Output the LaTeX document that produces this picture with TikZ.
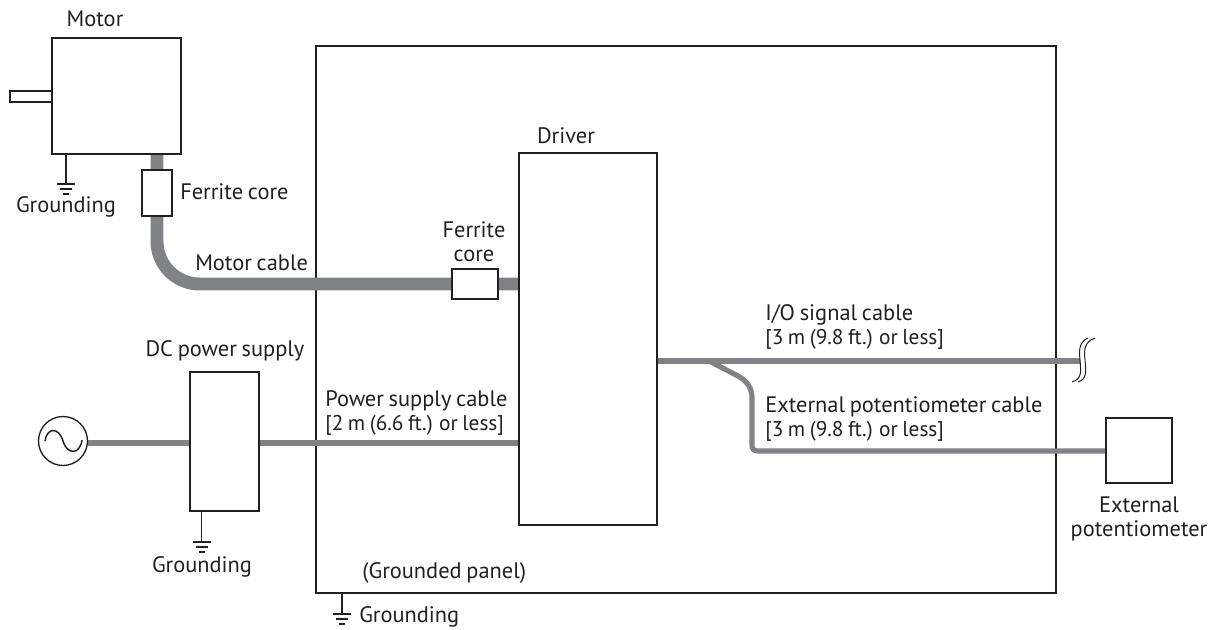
\documentclass[tikz,border=0pt]{standalone}
\usepackage{fontspec}
\setmainfont[WordSpace=0.8]{PT Sans}
\definecolor{ink}{HTML}{231F20}
\definecolor{cablegray}{HTML}{808285}
\tikzset{
  box/.style={draw=ink,line width=1.5pt,fill=white,rectangle,inner sep=0pt,outer sep=0pt,anchor=north west},
  lbl/.style={text=ink,inner sep=0pt,font=\fontsize{16.8}{20}\selectfont},
  lblsmall/.style={text=ink,inner sep=0pt,font=\fontsize{16}{20}\selectfont},
  thick cable/.style={draw=cablegray,line width=9.7pt},
  thin cable/.style={draw=cablegray,line width=3.9pt,line join=round},
  gnd/.style={draw=ink,line width=0.8pt},
}
\newcommand{\groundbars}[2]{%
  \draw[gnd,line width=1pt] (#1-9,#2) -- (#1+9,#2);
  \draw[gnd,line width=1pt] (#1-6,#2+5) -- (#1+6,#2+5);
  \draw[gnd,line width=1pt] (#1-3,#2+10) -- (#1+3,#2+10);
}
\begin{document}
\begin{tikzpicture}[x=0.75pt,y=-0.75pt]
\useasboundingbox (0,0) rectangle (1221,630);
% panel
\node[box,fill=none,minimum width=739.5*0.75pt,minimum height=547*0.75pt] (panel) at (316,46) {};
% cables
\coordinate (m1) at (157,154);
\coordinate (m2) at (519,284);
\draw[thick cable,rounded corners=32pt] (m1) -- (157,284) -- (m2);
\coordinate (psL) at (88,443);
\coordinate (drvPS) at (519,443);
\draw[thin cable] (psL) -- (drvPS);
\coordinate (ioS) at (657,361);
\coordinate (ioE) at (1080,361);
\draw[thin cable] (ioS) -- (ioE);
\coordinate (brS) at (709,361);
\coordinate (potIn) at (1106,451);
\draw[thin cable] (brS) -- (738,376) .. controls (747,381) and (752,388) .. (752,398) -- (752,445) .. controls (752,449) and (754,451) .. (758,451) -- (potIn);
% boxes
\node[box,minimum width=129*0.75pt,minimum height=116*0.75pt] (motor) at (52,38) {};
\node[box,minimum width=42*0.75pt,minimum height=11*0.75pt] (shaft) at (10,91) {};
\node[box,minimum width=30*0.75pt,minimum height=46*0.75pt] (fc1) at (142,170) {};
\node[box,minimum width=46*0.75pt,minimum height=30*0.75pt] (fc2) at (452,269) {};
\node[box,minimum width=138*0.75pt,minimum height=372*0.75pt] (driver) at (519,153) {};
\node[box,minimum width=69*0.75pt,minimum height=139*0.75pt] (psu) at (190,372) {};
\node[box,minimum width=66*0.75pt,minimum height=65*0.75pt] (pot) at (1105.7,418) {};
\node[draw=ink,line width=1pt,fill=white,circle,inner sep=0pt,outer sep=0pt,minimum size=49*0.75pt] (ac) at (63,441) {};
\draw[draw=ink,line width=1.1pt] (45,441) .. controls (47,427) and (59,427) .. (63,441) .. controls (67,455) and (80,455) .. (82,440);
% grounds
\coordinate (g1) at (66,184);
\draw[gnd] (66,154) -- (g1);
\groundbars{66}{184}
\coordinate (g2) at (201.5,542);
\draw[gnd] (201.5,511) -- (g2);
\groundbars{201.5}{542}
\coordinate (g3) at (342,614);
\draw[gnd] (342,593) -- (g3);
\groundbars{342}{614}
% break mark
\draw[draw=ink,line width=0.75pt] (1088,338) .. controls (1079,342) and (1079,350) .. (1080,360) .. controls (1081,372) and (1082,379) .. (1072,382);
\draw[draw=ink,line width=0.75pt] (1095,338) .. controls (1084,342) and (1084,350) .. (1085,360) .. controls (1086,372) and (1087,379) .. (1078,382);
% labels
\node[lbl,anchor=base] (tMotor) at (95,27) {Motor};
\node[lbl,anchor=base] (tG1) at (66,213) {Grounding};
\node[lbl,anchor=base west] (tF1) at (180,200) {Ferrite core};
\node[lbl,anchor=base west] (tMC) at (195,271) {Motor cable};
\node[lbl,anchor=base] (tF2a) at (474,238) {Ferrite};
\node[lbl,anchor=base] (tF2b) at (474,262) {core};
\node[lbl,anchor=base] (tDrv) at (566,144) {Driver};
\node[lbl,anchor=base] (tDC) at (225,357) {DC power supply};
\node[lbl,anchor=base west] (tPa) at (325,407) {Power supply cable};
\node[lblsmall,anchor=base west] (tPb) at (325,431) {[2 m (6.6 ft.) or less]};
\node[lbl,anchor=base west] (tIa) at (765,321) {I/O signal cable};
\node[lblsmall,anchor=base west] (tIb) at (765,345) {[3 m (9.8 ft.) or less]};
\node[lbl,anchor=base west] (tEa) at (765,413) {External potentiometer cable};
\node[lblsmall,anchor=base west] (tEb) at (765,437) {[3 m (9.8 ft.) or less]};
\node[lbl,anchor=base] (tXa) at (1139,513) {External};
\node[lbl,anchor=base] (tXb) at (1139,537) {potentiometer};
\node[lbl,anchor=base] (tG2) at (202,573) {Grounding};
\node[lbl,anchor=base west] (tGP) at (362,579) {(Grounded panel)};
\node[lbl,anchor=base west] (tG3) at (359,622) {Grounding};
\end{tikzpicture}
\end{document}
